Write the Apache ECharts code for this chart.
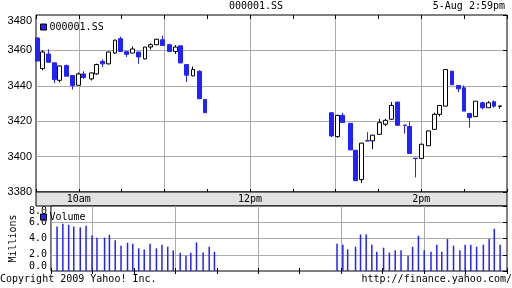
<!DOCTYPE html>
<html><head><meta charset="utf-8">
<script src="https://cdn.jsdelivr.net/npm/echarts@6/dist/echarts.min.js"></script>
<style>html,body{margin:0;padding:0;background:#fff}#c{width:512px;height:288px}</style>
</head><body><div id="c"></div>
<script>
// ---- data ----
const symbol = '000001.SS';
const stampText = '5-Aug 2:59pm';
const copyrightText = 'Copyright 2009 Yahoo! Inc.';
const urlText = 'http://finance.yahoo.com/';
// candle times, minutes after midnight
const times = [570.9,574.4,578.6,582.8,586.5,591.2,595.4,599.7,603.3,608.8,612.3,616.5,620.7,625.4,629.2,633.5,637.5,641.7,646.3,650.3,654.5,658.5,663.5,667.7,671.2,675.3,680.1,684.5,688.3,
  777.0,781.2,784.7,790.4,794.0,798.1,802.2,805.8,810.7,814.9,819.1,823.3,828.4,831.7,835.9,840.1,845.0,849.2,852.8,856.9,861.3,865.9,869.7,873.8,878.0,882.9,887.1,890.8,895.0];
const opens  = [3467,3449.7,3458,3453,3443.1,3451.4,3445.8,3440.3,3446.7,3443.9,3446.7,3453.8,3452.4,3458.5,3466.6,3459.3,3458.5,3459.1,3455.2,3461.9,3463.2,3466,3463.2,3459.4,3462.6,3452,3445.6,3448.2,3432.3,
  3424.8,3411.3,3423.3,3418.8,3403.6,3387,3409.0,3408.9,3412.6,3418.3,3421.1,3430.8,3417.8,3417,3399.1,3399,3406.1,3415.4,3423.9,3428.5,3448.2,3440.2,3438.9,3424.4,3422.6,3430.4,3427.6,3431,3428.4];
const closes = [3454,3459.1,3453.3,3443.5,3451.2,3445.4,3440.2,3446.7,3444.7,3447.3,3452,3452.4,3459.1,3465.8,3459.4,3457.8,3460.8,3456.3,3461.9,3463.2,3466.3,3462.8,3459.4,3461.9,3452.9,3446,3449.2,3432.7,3424.8,
  3411.7,3423.3,3419.2,3403.8,3386.4,3407.6,3408.8,3412.1,3419.2,3420.5,3428.9,3417.7,3417.6,3401.8,3398.9,3407,3414.5,3423.9,3428.9,3449.2,3440.6,3438.3,3425.7,3422,3431.3,3427.6,3430.4,3428.5,3428.6];
const lows   = [3454,3448.8,3453.3,3441.5,3442,3445.4,3437.9,3440.3,3443.8,3443,3446.2,3450.7,3452,3458,3459.4,3456.3,3458.5,3452.4,3455,3460.6,3463,3462.8,3459.4,3458,3452.9,3442.2,3445.4,3432.7,3424.8,
  3411.1,3410.6,3419.2,3403.8,3386.4,3385.1,3408.8,3404.2,3412.4,3417.3,3420.8,3417.5,3413,3401.8,3388.3,3399,3406,3415.2,3422.7,3428.5,3440.5,3436.4,3425.7,3416.4,3422.6,3426.7,3427.6,3427.6,3427.1];
const highs  = [3467.3,3460,3460.6,3453,3451.5,3452,3445.8,3447.5,3448.2,3447.5,3452.5,3455,3459.3,3466,3467.8,3459.3,3462.2,3459.1,3462,3464,3466.5,3468.3,3463.8,3463,3462.6,3452,3450.9,3448.8,3432.3,
  3424.8,3423.6,3424.8,3418.8,3403.6,3407.8,3413.8,3412.3,3421.3,3421.3,3430.8,3430.8,3417.8,3419.8,3399.1,3407.2,3414.7,3424.8,3429,3449.3,3448.6,3440.2,3440.2,3424.4,3431.3,3431,3431.3,3431.7,3428.6];
// volume in millions (first bar not visible)
const volumes = [null,5.48,5.81,5.69,5.48,5.36,5.57,4.38,4.1,4.1,4.47,3.77,3.12,3.48,3.36,2.79,2.66,3.36,2.79,3.24,2.99,2.54,2.26,1.89,2.26,3.52,2.29,2.99,2.38,
  3.36,3.24,2.66,2.99,4.5,4.5,3.24,2.38,2.87,2.26,2.54,2.54,1.89,2.99,4.34,2.54,2.38,3.24,2.38,3.93,3.12,2.54,3.24,3.24,2.99,3.24,3.93,5.2,3.24];
const hourLabelTimes = [600, 720, 840];
const hourLabelTexts = ['10am', '12pm', '2pm'];
const timeMin = 570, timeMax = 900, timeStep = 30;
const priceMin = 3380, priceMax = 3480, priceStep = 20;
const volMin = 0, volMax = 8, volStep = 2;

// ---- styles ----
const BLUE = '#2222ff';
const MONO = "'DejaVu Sans Mono', monospace";
const SANS = "'Liberation Sans', Arial, sans-serif";
const GRIDC = '#aaaaaa';

const candleData = times.map((t, i) => [t, opens[i], closes[i], lows[i], highs[i]]);
const volData = times.map((t, i) => [t, volumes[i]]).filter(d => d[1] != null);

function xLabel(v) {
  const k = hourLabelTimes.indexOf(Math.round(v));
  return k >= 0 ? hourLabelTexts[k] : '';
}
const xBase = { type: 'value', min: timeMin, max: timeMax, interval: timeStep, axisLine: { show: false } };
const hourSplit = { show: true, showMaxLine: false, lineStyle: { color: ['rgba(0,0,0,0)', GRIDC], width: 1 } };

const chart = echarts.init(document.getElementById('c'), null, { renderer: 'canvas' });
chart.setOption({
  animation: false,
  backgroundColor: '#fff',
  title: [
    { text: symbol, left: 'center', top: 1, padding: 0, textStyle: { fontFamily: MONO, fontSize: 10, fontWeight: 'normal', color: '#000' } },
    { text: stampText, right: 7, top: 1, padding: 0, textStyle: { fontFamily: MONO, fontSize: 10, fontWeight: 'normal', color: '#000' } },
    { text: copyrightText, left: 0, top: 274, padding: 0, textStyle: { fontFamily: MONO, fontSize: 10, fontWeight: 'normal', color: '#000' } },
    { text: urlText, right: 0, top: 274, padding: 0, textStyle: { fontFamily: MONO, fontSize: 10, fontWeight: 'normal', color: '#000' } }
  ],
  legend: [
    { data: [{ name: symbol, itemStyle: { color: BLUE, borderColor: '#000', borderWidth: 1 } }], left: 40, top: 22, padding: 0,
      icon: 'rect', itemWidth: 6, itemHeight: 6, selectedMode: false,
      textStyle: { fontFamily: MONO, fontSize: 10, color: '#000', padding: [0, 0, 0, -2] } },
    { data: [{ name: 'Volume', itemStyle: { color: BLUE, borderColor: '#000', borderWidth: 1 } }], left: 40, top: 212, padding: 0,
      icon: 'rect', itemWidth: 6, itemHeight: 6, selectedMode: false,
      textStyle: { fontFamily: MONO, fontSize: 10, color: '#000', padding: [0, 0, 0, -2] } }
  ],
  grid: [
    { left: 36, right: 5, top: 15, height: 177, show: true, borderColor: '#000', borderWidth: 1, backgroundColor: '#fff' },
    { left: 36, right: 5, top: 192, height: 14, show: true, borderColor: '#000', borderWidth: 1, backgroundColor: '#e2e2e2' },
    { left: 36, right: 5, top: 206, height: 65, show: true, borderColor: '#000', borderWidth: 1, backgroundColor: '#fff' }
  ],
  xAxis: [
    Object.assign({}, xBase, { gridIndex: 0, position: 'bottom',
      axisTick: { show: true, inside: true, length: 3, lineStyle: { color: '#000' } },
      axisLabel: { show: true, margin: 2, formatter: xLabel, fontFamily: MONO, fontSize: 10, color: '#000', showMinLabel: true, showMaxLabel: true },
      splitLine: hourSplit }),
    Object.assign({}, xBase, { gridIndex: 0, position: 'top',
      axisTick: { show: true, inside: true, length: 4, lineStyle: { color: '#000' } },
      axisLabel: { show: false }, splitLine: { show: false } }),
    Object.assign({}, xBase, { gridIndex: 1, show: false }),
    Object.assign({}, xBase, { gridIndex: 2, position: 'bottom',
      axisTick: { show: true, inside: true, length: 3, lineStyle: { color: '#000' } },
      axisLabel: { show: false }, splitLine: hourSplit }),
    Object.assign({}, xBase, { gridIndex: 2, position: 'top',
      axisTick: { show: true, inside: true, length: 3, lineStyle: { color: '#000' } },
      axisLabel: { show: false }, splitLine: { show: false } })
  ],
  yAxis: [
    { type: 'value', gridIndex: 0, position: 'left', min: priceMin, max: priceMax, interval: priceStep,
      axisLine: { show: false }, axisTick: { show: false },
      axisLabel: { margin: 4, fontFamily: SANS, fontSize: 11, color: '#000', verticalAlignMaxLabel: 'top', formatter: v => String(v) },
      splitLine: { show: true, showMinLine: false, showMaxLine: false, lineStyle: { color: GRIDC, width: 1 } } },
    { type: 'value', gridIndex: 0, position: 'right', min: priceMin, max: priceMax, interval: priceStep,
      axisLine: { show: false }, axisTick: { show: true, inside: true, length: 4, lineStyle: { color: '#000' } },
      axisLabel: { show: false }, splitLine: { show: false } },
    { type: 'value', gridIndex: 1, show: false, min: 0, max: 1 },
    { type: 'value', gridIndex: 2, position: 'left', min: volMin, max: volMax, interval: volStep,
      name: 'Millions', nameLocation: 'middle', nameRotate: 90, nameGap: 25,
      nameTextStyle: { fontFamily: MONO, fontSize: 10, color: '#000' },
      axisLine: { show: false }, axisTick: { show: false },
      axisLabel: { margin: 4, fontFamily: MONO, fontSize: 10, color: '#000', formatter: v => v.toFixed(1),
        verticalAlignMaxLabel: 'top', verticalAlignMinLabel: 'bottom' },
      splitLine: { show: true, showMinLine: false, showMaxLine: false, lineStyle: { color: GRIDC, width: 1 } } },
    { type: 'value', gridIndex: 2, position: 'right', min: volMin, max: volMax, interval: volStep,
      axisLine: { show: false }, axisTick: { show: true, inside: true, length: 4, lineStyle: { color: '#000' } },
      axisLabel: { show: false }, splitLine: { show: false } }
  ],
  series: [
    { name: symbol, type: 'candlestick', xAxisIndex: 0, yAxisIndex: 0, data: candleData,
      encode: { x: 0, y: [1, 2, 3, 4] }, barWidth: 4, clip: false,
      itemStyle: { color: '#fff', color0: BLUE, borderColor: '#000', borderColor0: BLUE, borderWidth: 1 } },
    { name: 'Volume', type: 'bar', xAxisIndex: 3, yAxisIndex: 3, data: volData, barWidth: 1.5,
      itemStyle: { color: BLUE } }
  ]
});
</script></body></html>
